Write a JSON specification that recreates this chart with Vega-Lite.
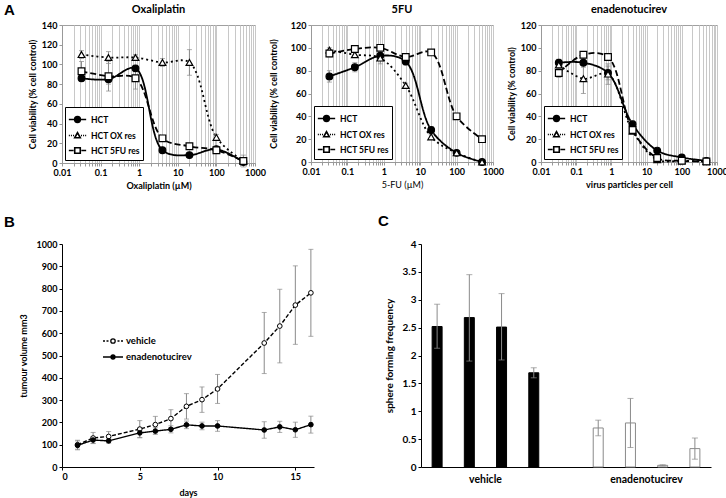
{
  "$schema": "https://vega.github.io/schema/vega-lite/v6.json",
  "padding": {"left": 4, "top": 2, "right": 1, "bottom": 2},
  "background": "white",
  "title": {"text": "A", "anchor": "start", "font": "Arial", "fontSize": 15, "fontWeight": "bold", "offset": -14, "frame": "bounds"},
  "datasets": {
    "oxa": [
      {"series": "HCT", "x": 0.032, "y": 86, "err": 3},
      {"series": "HCT", "x": 0.16, "y": 85, "err": 5},
      {"series": "HCT", "x": 0.8, "y": 96, "err": 3},
      {"series": "HCT", "x": 4, "y": 13, "err": 2},
      {"series": "HCT", "x": 20, "y": 8, "err": 1},
      {"series": "HCT", "x": 100, "y": 14, "err": 2},
      {"series": "HCT", "x": 500, "y": 1, "err": 1},
      {"series": "HCT OX res", "x": 0.032, "y": 110, "err": 4},
      {"series": "HCT OX res", "x": 0.16, "y": 107, "err": 6},
      {"series": "HCT OX res", "x": 0.8, "y": 107, "err": 3},
      {"series": "HCT OX res", "x": 4, "y": 102, "err": 4},
      {"series": "HCT OX res", "x": 20, "y": 102, "err": 13},
      {"series": "HCT OX res", "x": 100, "y": 26, "err": 3},
      {"series": "HCT OX res", "x": 500, "y": 2, "err": 6},
      {"series": "HCT 5FU res", "x": 0.032, "y": 93, "err": 10},
      {"series": "HCT 5FU res", "x": 0.16, "y": 88, "err": 15},
      {"series": "HCT 5FU res", "x": 0.8, "y": 86, "err": 11},
      {"series": "HCT 5FU res", "x": 4, "y": 25, "err": 3},
      {"series": "HCT 5FU res", "x": 20, "y": 17, "err": 2},
      {"series": "HCT 5FU res", "x": 100, "y": 13, "err": 2},
      {"series": "HCT 5FU res", "x": 500, "y": 2, "err": 3}
    ],
    "fu": [
      {"series": "HCT", "x": 0.032, "y": 75, "err": 5},
      {"series": "HCT", "x": 0.16, "y": 83, "err": 4},
      {"series": "HCT", "x": 0.8, "y": 93, "err": 3},
      {"series": "HCT", "x": 4, "y": 88, "err": 3},
      {"series": "HCT", "x": 20, "y": 28, "err": 3},
      {"series": "HCT", "x": 100, "y": 8, "err": 1},
      {"series": "HCT", "x": 500, "y": 0, "err": 1},
      {"series": "HCT OX res", "x": 0.032, "y": 98, "err": 2},
      {"series": "HCT OX res", "x": 0.16, "y": 94, "err": 2},
      {"series": "HCT OX res", "x": 0.8, "y": 91, "err": 5},
      {"series": "HCT OX res", "x": 4, "y": 67, "err": 2},
      {"series": "HCT OX res", "x": 20, "y": 22, "err": 2},
      {"series": "HCT OX res", "x": 100, "y": 8, "err": 1},
      {"series": "HCT OX res", "x": 500, "y": 0, "err": 1},
      {"series": "HCT 5FU res", "x": 0.032, "y": 95, "err": 3},
      {"series": "HCT 5FU res", "x": 0.16, "y": 99, "err": 2},
      {"series": "HCT 5FU res", "x": 0.8, "y": 100, "err": 2},
      {"series": "HCT 5FU res", "x": 4, "y": 92, "err": 2},
      {"series": "HCT 5FU res", "x": 20, "y": 96, "err": 2},
      {"series": "HCT 5FU res", "x": 100, "y": 40, "err": 2},
      {"series": "HCT 5FU res", "x": 500, "y": 20, "err": 1}
    ],
    "ena": [
      {"series": "HCT", "x": 0.032, "y": 87, "err": 3},
      {"series": "HCT", "x": 0.16, "y": 87, "err": 4},
      {"series": "HCT", "x": 0.8, "y": 78, "err": 6},
      {"series": "HCT", "x": 4, "y": 33, "err": 3},
      {"series": "HCT", "x": 20, "y": 10, "err": 1},
      {"series": "HCT", "x": 100, "y": 4, "err": 1},
      {"series": "HCT", "x": 500, "y": 1, "err": 1},
      {"series": "HCT OX res", "x": 0.032, "y": 85, "err": 3},
      {"series": "HCT OX res", "x": 0.16, "y": 73, "err": 13},
      {"series": "HCT OX res", "x": 0.8, "y": 77, "err": 9},
      {"series": "HCT OX res", "x": 4, "y": 27, "err": 2},
      {"series": "HCT OX res", "x": 20, "y": 2, "err": 1},
      {"series": "HCT OX res", "x": 100, "y": 1, "err": 1},
      {"series": "HCT OX res", "x": 500, "y": 0.5, "err": 0.5},
      {"series": "HCT 5FU res", "x": 0.032, "y": 78, "err": 4},
      {"series": "HCT 5FU res", "x": 0.16, "y": 94, "err": 2},
      {"series": "HCT 5FU res", "x": 0.8, "y": 92, "err": 3},
      {"series": "HCT 5FU res", "x": 4, "y": 28, "err": 3},
      {"series": "HCT 5FU res", "x": 20, "y": 3.5, "err": 1},
      {"series": "HCT 5FU res", "x": 100, "y": 1, "err": 1},
      {"series": "HCT 5FU res", "x": 500, "y": 0.5, "err": 0.5}
    ],
    "tumour": [
      {"series": "vehicle", "day": 1, "y": 100, "err": 20},
      {"series": "vehicle", "day": 2, "y": 130, "err": 25},
      {"series": "vehicle", "day": 3, "y": 137, "err": 22},
      {"series": "vehicle", "day": 5, "y": 170, "err": 38},
      {"series": "vehicle", "day": 6, "y": 190, "err": 37},
      {"series": "vehicle", "day": 7, "y": 217, "err": 40},
      {"series": "vehicle", "day": 8, "y": 272, "err": 57},
      {"series": "vehicle", "day": 9, "y": 302, "err": 57},
      {"series": "vehicle", "day": 10, "y": 350, "err": 65},
      {"series": "vehicle", "day": 13, "y": 556, "err": 137},
      {"series": "vehicle", "day": 14, "y": 632, "err": 165},
      {"series": "vehicle", "day": 15, "y": 726, "err": 176},
      {"series": "vehicle", "day": 16, "y": 781, "err": 195},
      {"series": "enadenotucirev", "day": 1, "y": 97, "err": 20},
      {"series": "enadenotucirev", "day": 2, "y": 121, "err": 15},
      {"series": "enadenotucirev", "day": 3, "y": 117, "err": 10},
      {"series": "enadenotucirev", "day": 5, "y": 153, "err": 22},
      {"series": "enadenotucirev", "day": 6, "y": 161, "err": 15},
      {"series": "enadenotucirev", "day": 7, "y": 169, "err": 16},
      {"series": "enadenotucirev", "day": 8, "y": 189, "err": 17},
      {"series": "enadenotucirev", "day": 9, "y": 184, "err": 17},
      {"series": "enadenotucirev", "day": 10, "y": 184, "err": 24},
      {"series": "enadenotucirev", "day": 13, "y": 166, "err": 37},
      {"series": "enadenotucirev", "day": 14, "y": 180, "err": 25},
      {"series": "enadenotucirev", "day": 15, "y": 167, "err": 34},
      {"series": "enadenotucirev", "day": 16, "y": 190, "err": 38}
    ],
    "sphere": [
      {"group": "vehicle", "rep": "1", "y": 2.52, "lo": 2.13, "hi": 2.92},
      {"group": "vehicle", "rep": "2", "y": 2.68, "lo": 1.90, "hi": 3.45},
      {"group": "vehicle", "rep": "3", "y": 2.51, "lo": 1.92, "hi": 3.11},
      {"group": "vehicle", "rep": "4", "y": 1.69, "lo": 1.60, "hi": 1.78},
      {"group": "enadenotucirev", "rep": "1", "y": 0.70, "lo": 0.56, "hi": 0.84},
      {"group": "enadenotucirev", "rep": "2", "y": 0.79, "lo": 0.35, "hi": 1.23},
      {"group": "enadenotucirev", "rep": "3", "y": 0.03, "lo": 0.02, "hi": 0.04},
      {"group": "enadenotucirev", "rep": "4", "y": 0.33, "lo": 0.14, "hi": 0.52}
    ]
  },
  "concat": [
    {
      "hconcat": [
        {
          "width": 193, "height": 138,
          "title": {"text": "Oxaliplatin"},
          "view": {"stroke": "#a0a0a0"},
          "data": {"name": "oxa"},
          "encoding": {
            "x": {"field": "x", "type": "quantitative", "scale": {"type": "log", "domain": [0.01, 1000], "nice": false},
              "axis": {"title": "Oxaliplatin (µM)", "values": [0.01,0.02,0.03,0.04,0.05,0.06,0.07,0.08,0.09,0.1,0.2,0.3,0.4,0.5,0.6,0.7,0.8,0.9,1,2,3,4,5,6,7,8,9,10,20,30,40,50,60,70,80,90,100,200,300,400,500,600,700,800,900,1000],
                "format": "~g", "labelExpr": "abs(log(datum.value)/LN10 - round(log(datum.value)/LN10)) < 0.001 ? datum.label : ''",
                "labelOverlap": false, "labelFlush": false, "grid": true, "gridColor": "#c8c8c8", "tickColor": "#999", "domainColor": "#999", "tickSize": 3}},
            "y": {"field": "y", "type": "quantitative", "scale": {"domain": [0, 140], "nice": false},
              "axis": {"title": "Cell viability (% cell control)", "values": [0,20,40,60,80,100,120,140], "tickColor": "#999", "domainColor": "#999"}}
          },
          "layer": [
            {"mark": {"type": "line", "interpolate": "catmull-rom", "color": "black", "strokeWidth": 1.8},
              "encoding": {"detail": {"field": "series"}, "strokeDash": {"condition": [{"test": "datum.series === 'HCT OX res'", "value": [2, 3]}, {"test": "datum.series === 'HCT 5FU res'", "value": [6, 3]}], "value": [1, 0]}}},
            {"mark": {"type": "errorbar", "ticks": true, "color": "#8a8a8a"},
              "encoding": {"y": {"field": "y", "type": "quantitative"}, "yError": {"field": "err"}}},
            {"mark": {"type": "point", "size": 45, "stroke": "black", "strokeWidth": 1.2, "opacity": 1},
              "encoding": {
                "fill": {"condition": {"test": "datum.series === 'HCT'", "value": "black"}, "value": "white"},
                "shape": {"condition": [{"test": "datum.series === 'HCT OX res'", "value": "triangle-up"}, {"test": "datum.series === 'HCT 5FU res'", "value": "square"}], "value": "circle"}
              }},
            {"transform": [{"filter": "false"}],
              "mark": {"type": "point", "strokeWidth": 1.6, "opacity": 1},
              "encoding": {
                "shape": {"field": "series", "type": "nominal", "scale": {"domain": ["HCT", "HCT OX res", "HCT 5FU res"], "range": ["M-1,0H1M-0.33,0A0.33,0.33,0,1,0,0.33,0A0.33,0.33,0,1,0,-0.33,0Z", "M-1,0h0.12M-0.76,0h0.12M-0.52,0h0.12M0.4,0h0.12M0.64,0h0.12M0.88,0h0.12M-0.32,0.26L0,-0.32L0.32,0.26Z", "M-1,0H-0.45M0.45,0H1M-0.32,-0.32H0.32V0.32H-0.32Z"]},
                  "legend": {"title": null, "orient": "bottom-left", "offset": 3, "fillColor": "white", "strokeColor": "black", "padding": 3, "symbolSize": 300, "rowPadding": -2, "labelFontSize": 8.5, "labelFontWeight": "bold", "labelFont": "Lato", "symbolStrokeWidth": 1.6}},
                "fill": {"field": "series", "type": "nominal", "scale": {"domain": ["HCT", "HCT OX res", "HCT 5FU res"], "range": ["black", "white", "white"]},
                  "legend": {"title": null, "orient": "bottom-left", "offset": 3, "fillColor": "white", "strokeColor": "black", "padding": 3, "symbolSize": 300, "rowPadding": -2, "labelFontSize": 8.5, "labelFontWeight": "bold", "labelFont": "Lato", "symbolStrokeWidth": 1.6}},
                "stroke": {"field": "series", "type": "nominal", "scale": {"domain": ["HCT", "HCT OX res", "HCT 5FU res"], "range": ["black", "black", "black"]},
                  "legend": {"title": null, "orient": "bottom-left", "offset": 3, "fillColor": "white", "strokeColor": "black", "padding": 3, "symbolSize": 300, "rowPadding": -2, "labelFontSize": 8.5, "labelFontWeight": "bold", "labelFont": "Lato", "symbolStrokeWidth": 1.6}}
              }}
          ]
        },
        {
          "width": 182, "height": 137,
          "title": {"text": "5FU"},
          "view": {"stroke": "#a0a0a0"},
          "data": {"name": "fu"},
          "encoding": {
            "x": {"field": "x", "type": "quantitative", "scale": {"type": "log", "domain": [0.01, 1000], "nice": false},
              "axis": {"title": "5-FU (µM)", "titleFontWeight": "normal", "values": [0.01,0.02,0.03,0.04,0.05,0.06,0.07,0.08,0.09,0.1,0.2,0.3,0.4,0.5,0.6,0.7,0.8,0.9,1,2,3,4,5,6,7,8,9,10,20,30,40,50,60,70,80,90,100,200,300,400,500,600,700,800,900,1000],
                "format": "~g", "labelExpr": "abs(log(datum.value)/LN10 - round(log(datum.value)/LN10)) < 0.001 ? datum.label : ''",
                "labelOverlap": false, "labelFlush": false, "grid": true, "gridColor": "#c8c8c8", "tickColor": "#999", "domainColor": "#999", "tickSize": 3}},
            "y": {"field": "y", "type": "quantitative", "scale": {"domain": [0, 120], "nice": false},
              "axis": {"title": "Cell viability (% cell control)", "values": [0,20,40,60,80,100,120], "tickColor": "#999", "domainColor": "#999", "titlePadding": 12}}
          },
          "layer": [
            {"mark": {"type": "line", "interpolate": "catmull-rom", "color": "black", "strokeWidth": 1.8},
              "encoding": {"detail": {"field": "series"}, "strokeDash": {"condition": [{"test": "datum.series === 'HCT OX res'", "value": [2, 3]}, {"test": "datum.series === 'HCT 5FU res'", "value": [6, 3]}], "value": [1, 0]}}},
            {"mark": {"type": "errorbar", "ticks": true, "color": "#8a8a8a"},
              "encoding": {"y": {"field": "y", "type": "quantitative"}, "yError": {"field": "err"}}},
            {"mark": {"type": "point", "size": 45, "stroke": "black", "strokeWidth": 1.2, "opacity": 1},
              "encoding": {
                "fill": {"condition": {"test": "datum.series === 'HCT'", "value": "black"}, "value": "white"},
                "shape": {"condition": [{"test": "datum.series === 'HCT OX res'", "value": "triangle-up"}, {"test": "datum.series === 'HCT 5FU res'", "value": "square"}], "value": "circle"}
              }},
            {"transform": [{"filter": "false"}],
              "mark": {"type": "point", "strokeWidth": 1.6, "opacity": 1},
              "encoding": {
                "shape": {"field": "series", "type": "nominal", "scale": {"domain": ["HCT", "HCT OX res", "HCT 5FU res"], "range": ["M-1,0H1M-0.33,0A0.33,0.33,0,1,0,0.33,0A0.33,0.33,0,1,0,-0.33,0Z", "M-1,0h0.12M-0.76,0h0.12M-0.52,0h0.12M0.4,0h0.12M0.64,0h0.12M0.88,0h0.12M-0.32,0.26L0,-0.32L0.32,0.26Z", "M-1,0H-0.45M0.45,0H1M-0.32,-0.32H0.32V0.32H-0.32Z"]},
                  "legend": {"title": null, "orient": "bottom-left", "offset": 3, "fillColor": "white", "strokeColor": "black", "padding": 3, "symbolSize": 300, "rowPadding": -2, "labelFontSize": 8.5, "labelFontWeight": "bold", "labelFont": "Lato", "symbolStrokeWidth": 1.6}},
                "fill": {"field": "series", "type": "nominal", "scale": {"domain": ["HCT", "HCT OX res", "HCT 5FU res"], "range": ["black", "white", "white"]},
                  "legend": {"title": null, "orient": "bottom-left", "offset": 3, "fillColor": "white", "strokeColor": "black", "padding": 3, "symbolSize": 300, "rowPadding": -2, "labelFontSize": 8.5, "labelFontWeight": "bold", "labelFont": "Lato", "symbolStrokeWidth": 1.6}},
                "stroke": {"field": "series", "type": "nominal", "scale": {"domain": ["HCT", "HCT OX res", "HCT 5FU res"], "range": ["black", "black", "black"]},
                  "legend": {"title": null, "orient": "bottom-left", "offset": 3, "fillColor": "white", "strokeColor": "black", "padding": 3, "symbolSize": 300, "rowPadding": -2, "labelFontSize": 8.5, "labelFontWeight": "bold", "labelFont": "Lato", "symbolStrokeWidth": 1.6}}
              }}
          ]
        },
        {
          "width": 176, "height": 137,
          "title": {"text": "enadenotucirev"},
          "view": {"stroke": "#a0a0a0"},
          "data": {"name": "ena"},
          "encoding": {
            "x": {"field": "x", "type": "quantitative", "scale": {"type": "log", "domain": [0.01, 1000], "nice": false},
              "axis": {"title": "virus particles per cell", "values": [0.01,0.02,0.03,0.04,0.05,0.06,0.07,0.08,0.09,0.1,0.2,0.3,0.4,0.5,0.6,0.7,0.8,0.9,1,2,3,4,5,6,7,8,9,10,20,30,40,50,60,70,80,90,100,200,300,400,500,600,700,800,900,1000],
                "format": "~g", "labelExpr": "abs(log(datum.value)/LN10 - round(log(datum.value)/LN10)) < 0.001 ? datum.label : ''",
                "labelOverlap": false, "labelFlush": false, "grid": true, "gridColor": "#c8c8c8", "tickColor": "#999", "domainColor": "#999", "tickSize": 3}},
            "y": {"field": "y", "type": "quantitative", "scale": {"domain": [0, 120], "nice": false},
              "axis": {"title": "Cell viability (% control)", "values": [0,20,40,60,80,100,120], "tickColor": "#999", "domainColor": "#999", "titlePadding": 4}}
          },
          "layer": [
            {"mark": {"type": "line", "interpolate": "catmull-rom", "color": "black", "strokeWidth": 1.8},
              "encoding": {"detail": {"field": "series"}, "strokeDash": {"condition": [{"test": "datum.series === 'HCT OX res'", "value": [2, 3]}, {"test": "datum.series === 'HCT 5FU res'", "value": [6, 3]}], "value": [1, 0]}}},
            {"mark": {"type": "errorbar", "ticks": true, "color": "#8a8a8a"},
              "encoding": {"y": {"field": "y", "type": "quantitative"}, "yError": {"field": "err"}}},
            {"mark": {"type": "point", "size": 45, "stroke": "black", "strokeWidth": 1.2, "opacity": 1},
              "encoding": {
                "fill": {"condition": {"test": "datum.series === 'HCT'", "value": "black"}, "value": "white"},
                "shape": {"condition": [{"test": "datum.series === 'HCT OX res'", "value": "triangle-up"}, {"test": "datum.series === 'HCT 5FU res'", "value": "square"}], "value": "circle"}
              }},
            {"transform": [{"filter": "false"}],
              "mark": {"type": "point", "strokeWidth": 1.6, "opacity": 1},
              "encoding": {
                "shape": {"field": "series", "type": "nominal", "scale": {"domain": ["HCT", "HCT OX res", "HCT 5FU res"], "range": ["M-1,0H1M-0.33,0A0.33,0.33,0,1,0,0.33,0A0.33,0.33,0,1,0,-0.33,0Z", "M-1,0h0.12M-0.76,0h0.12M-0.52,0h0.12M0.4,0h0.12M0.64,0h0.12M0.88,0h0.12M-0.32,0.26L0,-0.32L0.32,0.26Z", "M-1,0H-0.45M0.45,0H1M-0.32,-0.32H0.32V0.32H-0.32Z"]},
                  "legend": {"title": null, "orient": "bottom-left", "offset": 3, "fillColor": "white", "strokeColor": "black", "padding": 3, "symbolSize": 300, "rowPadding": -2, "labelFontSize": 8.5, "labelFontWeight": "bold", "labelFont": "Lato", "symbolStrokeWidth": 1.6}},
                "fill": {"field": "series", "type": "nominal", "scale": {"domain": ["HCT", "HCT OX res", "HCT 5FU res"], "range": ["black", "white", "white"]},
                  "legend": {"title": null, "orient": "bottom-left", "offset": 3, "fillColor": "white", "strokeColor": "black", "padding": 3, "symbolSize": 300, "rowPadding": -2, "labelFontSize": 8.5, "labelFontWeight": "bold", "labelFont": "Lato", "symbolStrokeWidth": 1.6}},
                "stroke": {"field": "series", "type": "nominal", "scale": {"domain": ["HCT", "HCT OX res", "HCT 5FU res"], "range": ["black", "black", "black"]},
                  "legend": {"title": null, "orient": "bottom-left", "offset": 3, "fillColor": "white", "strokeColor": "black", "padding": 3, "symbolSize": 300, "rowPadding": -2, "labelFontSize": 8.5, "labelFontWeight": "bold", "labelFont": "Lato", "symbolStrokeWidth": 1.6}}
              }}
          ]
        }
      ],
      "spacing": 2,
      "resolve": {"scale": {"x": "independent", "y": "independent", "shape": "independent", "fill": "independent", "stroke": "independent"}, "legend": {"shape": "independent", "fill": "independent", "stroke": "independent"}, "axis": {"x": "independent", "y": "independent"}}
    },
    {
      "hconcat": [
        {
          "width": 252, "height": 223,
          "title": {"text": "B", "anchor": "start", "frame": "group", "dx": -58, "offset": 10, "font": "Arial", "fontSize": 15, "fontWeight": "bold"},
          "data": {"name": "tumour"},
          "encoding": {
            "x": {"field": "day", "type": "quantitative", "scale": {"domain": [0, 16.2], "nice": false}, "axis": {"title": "days", "values": [0, 5, 10, 15], "titlePadding": 7}},
            "y": {"field": "y", "type": "quantitative", "scale": {"domain": [0, 1000], "nice": false}, "axis": {"title": "tumour volume mm3", "format": "d", "values": [0,100,200,300,400,500,600,700,800,900,1000], "titlePadding": 8}}
          },
          "layer": [
            {"mark": {"type": "errorbar", "ticks": true, "color": "#8a8a8a"},
              "encoding": {"y": {"field": "y", "type": "quantitative"}, "yError": {"field": "err"}}},
            {"mark": {"type": "line", "color": "black", "strokeWidth": 1.4},
              "encoding": {"detail": {"field": "series"}, "strokeDash": {"condition": {"test": "datum.series === 'vehicle'", "value": [4, 2]}, "value": [1, 0]}}},
            {"mark": {"type": "point", "size": 22, "stroke": "black", "strokeWidth": 1, "shape": "circle", "opacity": 1},
              "encoding": {
                "fill": {"condition": {"test": "datum.series === 'vehicle'", "value": "white"}, "value": "black"}
              }},
            {"transform": [{"filter": "false"}],
              "mark": {"type": "point", "strokeWidth": 1.3, "opacity": 1},
              "encoding": {
                "shape": {"field": "series", "type": "nominal", "scale": {"domain": ["vehicle", "enadenotucirev"], "range": ["M-1,0h0.2M-0.65,0h0.2M0.45,0h0.2M0.8,0h0.2M-0.22,0A0.22,0.22,0,1,0,0.22,0A0.22,0.22,0,1,0,-0.22,0Z", "M-1,0H1M-0.2,0A0.2,0.2,0,1,0,0.2,0A0.2,0.2,0,1,0,-0.2,0Z"]},
                  "legend": {"title": null, "orient": "none", "legendX": 40, "legendY": 86, "symbolSize": 400, "rowPadding": -2, "labelFontSize": 9.5, "labelFontWeight": "bold", "labelFont": "Lato", "labelOffset": 2, "symbolStrokeWidth": 1.3}},
                "fill": {"field": "series", "type": "nominal", "scale": {"domain": ["vehicle", "enadenotucirev"], "range": ["white", "black"]},
                  "legend": {"title": null, "orient": "none", "legendX": 40, "legendY": 86, "symbolSize": 400, "rowPadding": -2, "labelFontSize": 9.5, "labelFontWeight": "bold", "labelFont": "Lato", "labelOffset": 2, "symbolStrokeWidth": 1.3}},
                "stroke": {"field": "series", "type": "nominal", "scale": {"domain": ["vehicle", "enadenotucirev"], "range": ["black", "black"]},
                  "legend": {"title": null, "orient": "none", "legendX": 40, "legendY": 86, "symbolSize": 400, "rowPadding": -2, "labelFontSize": 9.5, "labelFontWeight": "bold", "labelFont": "Lato", "labelOffset": 2, "symbolStrokeWidth": 1.3}}
              }}
          ]
        },
        {
          "width": 290, "height": 223,
          "title": {"text": "C", "anchor": "start", "frame": "group", "dx": -43, "offset": 10, "font": "Arial", "fontSize": 15, "fontWeight": "bold"},
          "data": {"name": "sphere"},
          "encoding": {
            "x": {"field": "group", "type": "nominal", "sort": ["vehicle", "enadenotucirev"], "scale": {"paddingInner": 0.2, "paddingOuter": 0},
              "axis": {"title": null, "ticks": false, "labelAngle": 0, "labelFontSize": 10.5, "labelPadding": 7}},
            "xOffset": {"field": "rep", "type": "nominal", "scale": {"paddingInner": 0.69, "paddingOuter": 0.345}},
            "y": {"field": "y", "type": "quantitative", "scale": {"domain": [0, 4], "nice": false},
              "axis": {"title": "sphere forming frequency", "format": "~g", "values": [0,0.5,1,1.5,2,2.5,3,3.5,4], "labelFontSize": 10, "titleFontSize": 10, "titlePadding": 8}}
          },
          "layer": [
            {"mark": {"type": "bar", "strokeWidth": 1},
              "encoding": {
                "fill": {"condition": {"test": "datum.group === 'vehicle'", "value": "black"}, "value": "white"},
                "stroke": {"condition": {"test": "datum.group === 'vehicle'", "value": "black"}, "value": "#8a8a8a"}
              }},
            {"mark": {"type": "rule", "color": "#8a8a8a"}, "encoding": {"y": {"field": "lo", "type": "quantitative"}, "y2": {"field": "hi"}}},
            {"mark": {"type": "tick", "color": "#8a8a8a", "size": 6, "thickness": 1}, "encoding": {"y": {"field": "lo", "type": "quantitative"}}},
            {"mark": {"type": "tick", "color": "#8a8a8a", "size": 6, "thickness": 1}, "encoding": {"y": {"field": "hi", "type": "quantitative"}}}
          ]
        }
      ],
      "spacing": 62,
      "resolve": {"scale": {"x": "independent", "y": "independent", "shape": "independent", "fill": "independent", "stroke": "independent"}, "legend": {"shape": "independent", "fill": "independent", "stroke": "independent"}, "axis": {"x": "independent", "y": "independent"}}
    }
  ],
  "columns": 1,
  "align": "none",
  "spacing": 23,
  "resolve": {"scale": {"x": "independent", "y": "independent", "shape": "independent", "fill": "independent", "stroke": "independent"}, "legend": {"shape": "independent", "fill": "independent", "stroke": "independent"}, "axis": {"x": "independent", "y": "independent"}},
  "config": {
    "font": "Lato",
    "view": {"stroke": null},
    "title": {"font": "Lato", "fontWeight": "bold", "fontSize": 11, "offset": 6},
    "axis": {"labelFont": "Lato", "labelFontWeight": "bold", "labelFontSize": 9, "labelColor": "black", "titleFont": "Lato", "titleFontWeight": "bold", "titleFontSize": 9, "titleColor": "black", "grid": false, "domainColor": "black", "tickColor": "black", "tickSize": 3, "labelPadding": 2, "titlePadding": 4},
    "legend": {"labelColor": "black"}
  }
}
